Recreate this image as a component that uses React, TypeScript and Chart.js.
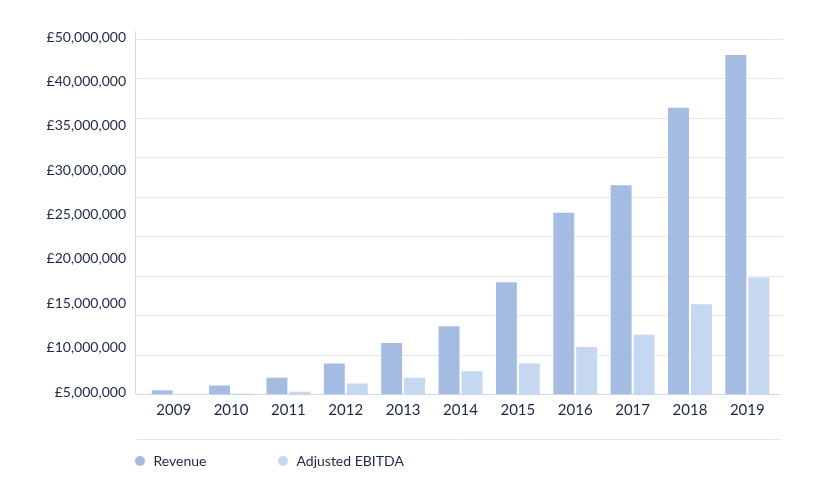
import React, { useEffect, useRef } from 'react';
import { Chart, registerables } from 'chart.js';

Chart.register(...registerables);

const years = ['2009', '2010', '2011', '2012', '2013', '2014', '2015', '2016', '2017', '2018', '2019'];
const revenue = [600000, 1200000, 2200000, 4000000, 6600000, 8700000, 14300000, 23100000, 26600000, 36400000, 43100000];
const ebitda = [0, 100000, 400000, 1450000, 2200000, 3000000, 4000000, 6100000, 7650000, 11500000, 14900000];
const yTickLabels = ['£5,000,000', '£10,000,000', '£15,000,000', '£20,000,000', '£25,000,000', '£30,000,000', '£35,000,000', '£40,000,000', '£50,000,000'];
const seriesNames = ['Revenue', 'Adjusted EBITDA'];
const seriesColors = ['#a4bce2', '#c6d7f0'];
const gridMax = 45000000;
const gridStep = 5000000;

const TEXT = '#1c2844';
const FONT = 'Lato, "Open Sans", sans-serif';

const framePlugin = {
  id: 'frame',
  beforeDatasetsDraw(chart: any) {
    const { ctx, chartArea: a, scales } = chart;
    const y = scales.y;
    const left = a.left - 10.5;
    const right = a.right + 7;
    ctx.save();
    ctx.lineWidth = 1;
    ctx.strokeStyle = '#e6e6ee';
    y.ticks.forEach((t: any) => {
      if (t.value === 0) return;
      const py = Math.round(y.getPixelForValue(t.value)) + 0.5;
      ctx.beginPath();
      ctx.moveTo(left, py);
      ctx.lineTo(right, py);
      ctx.stroke();
    });
    ctx.restore();
  },
  afterDatasetsDraw(chart: any) {
    const { ctx, chartArea: a } = chart;
    const ax = Math.round(a.left - 10.5) + 0.5;
    ctx.save();
    ctx.lineWidth = 1;
    ctx.strokeStyle = '#d5d9e6';
    ctx.beginPath();
    ctx.moveTo(ax, a.top - 8);
    ctx.lineTo(ax, a.bottom);
    ctx.stroke();
    ctx.strokeStyle = '#ccd6eb';
    const by = Math.round(a.bottom) + 0.5;
    ctx.beginPath();
    ctx.moveTo(ax, by);
    ctx.lineTo(a.right + 5, by);
    ctx.stroke();
    ctx.restore();
  },
  afterDraw(chart: any) {
    const { ctx, chartArea: a } = chart;
    const ax = Math.round(a.left - 10.5) + 0.5;
    const sepY = Math.round(chart.height - 60) + 0.5;
    const ly = chart.height - 38;
    ctx.save();
    ctx.lineWidth = 1;
    ctx.strokeStyle = '#e6e6ee';
    ctx.beginPath();
    ctx.moveTo(ax, sepY);
    ctx.lineTo(a.right + 5, sepY);
    ctx.stroke();
    const offsets = [0, 143];
    ctx.font = '14px ' + FONT;
    ctx.textBaseline = 'middle';
    ctx.textAlign = 'left';
    chart.data.datasets.forEach((ds: any, i: number) => {
      const bx = ax + offsets[i];
      ctx.fillStyle = ds.backgroundColor;
      ctx.beginPath();
      ctx.arc(bx + 4.5, ly, 5, 0, Math.PI * 2);
      ctx.fill();
      ctx.fillStyle = TEXT;
      ctx.fillText(ds.label, bx + 18, ly);
    });
    ctx.restore();
  },
};

export default function App() {
  const ref = useRef<HTMLCanvasElement | null>(null);

  useEffect(() => {
    if (!ref.current) return;
    const chart = new Chart(ref.current, {
      type: 'bar',
      data: {
        labels: years,
        datasets: [
          {
            label: seriesNames[0],
            data: revenue,
            backgroundColor: seriesColors[0],
            borderColor: 'rgba(255,255,255,0.4)',
            borderWidth: 1,
            categoryPercentage: 0.8,
            barPercentage: 1.0,
            yAxisID: 'y',
          },
          {
            label: seriesNames[1],
            data: ebitda,
            backgroundColor: seriesColors[1],
            borderColor: 'rgba(255,255,255,0.4)',
            borderWidth: 1,
            categoryPercentage: 0.8,
            barPercentage: 1.0,
            yAxisID: 'y',
          },
        ],
      },
      options: {
        animation: false,
        responsive: true,
        maintainAspectRatio: false,
        layout: { padding: { top: 39, left: 47, right: 54, bottom: 73 } },
        plugins: {
          legend: { display: false },
          tooltip: { enabled: false },
        },
        scales: {
          x: {
            grid: { display: false, drawTicks: false },
            border: { display: false },
            ticks: {
              color: TEXT,
              font: { family: FONT, size: 15 },
              padding: 7,
              maxRotation: 0,
            },
          },
          y: {
            display: false,
            min: 0,
            max: gridMax,
            ticks: { stepSize: gridStep },
          },
          y2: {
            type: 'linear',
            position: 'left',
            min: 0,
            max: yTickLabels.length - 1,
            grid: { display: false, drawTicks: false },
            border: { display: false },
            ticks: {
              stepSize: 1,
              color: TEXT,
              font: { family: FONT, size: 14 },
              padding: 19,
              labelOffset: -2,
              callback: (v: any) => yTickLabels[Number(v)] ?? '',
            },
            afterFit: (s: any) => {
              s.width = 98;
            },
          },
        },
      },
      plugins: [framePlugin],
    } as any);
    return () => chart.destroy();
  }, []);

  return (
    <div style={{ position: 'fixed', left: 0, top: 0, width: 830, height: 499, background: '#fff' }}>
      <canvas ref={ref} />
    </div>
  );
}
